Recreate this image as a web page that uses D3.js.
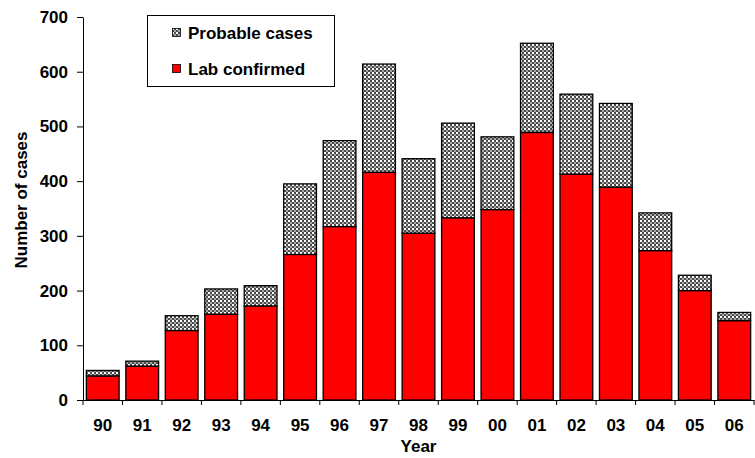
<!DOCTYPE html>
<html>
<head>
<meta charset="utf-8">
<script src="https://cdn.jsdelivr.net/npm/d3@7"></script>
<style>
  html, body { margin: 0; padding: 0; background: #fff; }
  svg { display: block; }
  text { font-family: "Liberation Sans", Arial, Helvetica, sans-serif; font-weight: bold; fill: #000; }
</style>
</head>
<body>
<svg id="chart" width="755" height="458"></svg>
<script>
// Cases per year, 1990–2006
const years = ["90","91","92","93","94","95","96","97","98","99","00","01","02","03","04","05","06"];
const labConfirmed = [44, 62, 127, 157, 172, 266, 317, 416, 305, 333, 348, 489, 413, 389, 273, 200, 145];
const probable     = [10,  9,  27,  46,  37, 129, 157, 198, 136, 173, 133, 163, 146, 153,  69,  28,  15];
const yTicks = [0, 100, 200, 300, 400, 500, 600, 700];
const seriesNames = ["Lab confirmed", "Probable cases"];

const svg = d3.select("#chart");
const margin = { left: 83, right: 1, top: 17, bottom: 58 };
const W = 755, H = 458;
const FS = "17px";

const rows = years.map((yr, i) => ({ year: yr, lab: labConfirmed[i], prob: probable[i] }));

const pad = 0.17;
const x = d3.scaleBand().domain(years)
  .range([margin.left, W - margin.right])
  .paddingInner(pad).paddingOuter(pad / 2);
const y = d3.scaleLinear().domain([0, 700]).range([H - margin.bottom, margin.top]);

// checkered fill for probable cases
const defs = svg.append("defs");
const pat = defs.append("pattern").attr("id", "check")
  .attr("patternUnits", "userSpaceOnUse").attr("width", 4).attr("height", 4);
pat.append("rect").attr("width", 4).attr("height", 4).attr("fill", "#4a4a4a");
pat.append("rect").attr("x", 0).attr("y", 0).attr("width", 2).attr("height", 2).attr("fill", "#ffffff");
pat.append("rect").attr("x", 2).attr("y", 2).attr("width", 2).attr("height", 2).attr("fill", "#a8a8a8");

const stack = d3.stack().keys(["lab", "prob"])(rows);
const fills = { lab: "#ff0000", prob: "url(#check)" };

svg.append("g").selectAll("g").data(stack).join("g")
  .attr("fill", d => fills[d.key])
  .selectAll("rect").data(d => d).join("rect")
  .attr("x", d => x(d.data.year))
  .attr("width", x.bandwidth())
  .attr("y", d => y(d[1]))
  .attr("height", d => y(d[0]) - y(d[1]))
  .attr("stroke", "#000").attr("stroke-width", 1.3);

// y axis
const yAxis = svg.append("g").attr("transform", `translate(${margin.left},0)`)
  .call(d3.axisLeft(y).tickValues(yTicks).tickSize(6).tickPadding(9).tickSizeOuter(0));
yAxis.selectAll("text").style("font-size", FS);
yAxis.selectAll("line, path").attr("stroke", "#000");

// x axis: labels centred under bars, ticks at category boundaries
const base = y(0);
const xAxis = svg.append("g").attr("transform", `translate(0,${base})`)
  .call(d3.axisBottom(x).tickSize(0).tickPadding(19).tickSizeOuter(0));
xAxis.selectAll("text").style("font-size", FS);
xAxis.select("path").attr("stroke", "#000");

const half = x.step() * pad / 2;
const bounds = years.map(d => x(d) - half).concat([x.range()[1]]);
svg.append("g").selectAll("line").data(bounds).join("line")
  .attr("x1", d => d).attr("x2", d => d)
  .attr("y1", base).attr("y2", base + 5)
  .attr("stroke", "#000");

// axis titles
svg.append("text").attr("x", (x.range()[0] + x.range()[1]) / 2).attr("y", 452)
  .attr("text-anchor", "middle").style("font-size", FS).text("Year");
svg.append("text").attr("transform", `translate(27,${200}) rotate(-90)`)
  .attr("text-anchor", "middle").style("font-size", FS).text("Number of cases");

// legend
const lg = svg.append("g");
lg.append("rect").attr("x", 147.5).attr("y", 15.5).attr("width", 187).attr("height", 71)
  .attr("fill", "#fff").attr("stroke", "#000");
const legendItems = [
  { name: seriesNames[1], fill: fills.prob, y: 28 },
  { name: seriesNames[0], fill: fills.lab, y: 64 }
];
legendItems.forEach(it => {
  lg.append("rect").attr("x", 172.5).attr("y", it.y + 0.5).attr("width", 8).attr("height", 8)
    .attr("fill", it.fill).attr("stroke", "#000").attr("stroke-width", 0.8);
  lg.append("text").attr("x", 188).attr("y", it.y + 11).style("font-size", FS).text(it.name);
});
</script>
</body>
</html>
